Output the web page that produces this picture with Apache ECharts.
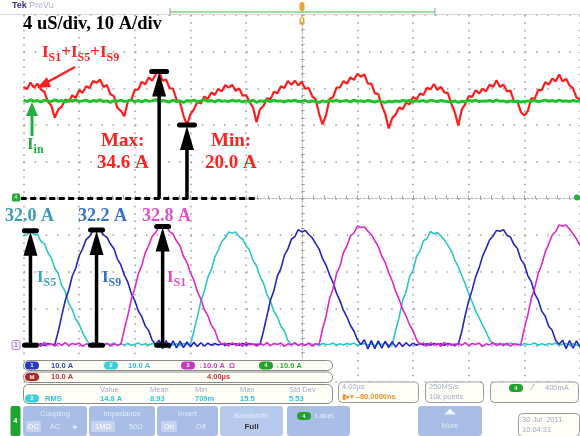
<!DOCTYPE html>
<html><head><meta charset="utf-8">
<script src="https://cdn.jsdelivr.net/npm/echarts@6/dist/echarts.min.js"></script>
<style>html,body{margin:0;padding:0;background:#fff}#c{width:580px;height:436px}</style>
</head><body><div id="c"></div><script>
// ---- acquisition grid (scope record) ----
const sampleStartUs = -20;
const sampleStepUs = 0.25;
const divisionsX = [-20, 20, 4];   // min, max, µs per div
// ---- Math: I_S1 + I_S5 + I_S9 (A) ----
const mathSum = [30.4,29.8,31.6,30.2,31.3,29.7,29.1,26.4,25.3,22.0,
 24.3,25.0,27.0,26.3,28.1,27.4,29.5,28.8,30.6,30.1,
 32.0,31.5,32.4,30.4,30.9,28.4,27.9,24.7,23.9,22.4,
 26.4,26.9,29.6,29.7,31.8,31.1,33.0,32.1,33.8,34.6,
 32.1,32.4,30.1,29.9,26.9,26.1,22.6,20.0,22.9,24.3,
 26.4,25.9,27.8,27.1,28.9,28.2,29.9,29.2,30.9,30.2,
 31.0,29.3,30.0,28.0,28.2,26.3,24.8,20.8,24.3,25.2,
 27.3,27.0,29.1,28.7,30.6,30.1,32.0,31.0,32.1,30.8,
 31.8,29.9,30.1,27.9,27.0,23.0,20.2,22.8,27.2,27.6,
 30.2,30.3,32.0,31.3,33.0,32.3,34.0,33.2,33.8,31.3,
 31.3,28.7,28.4,25.4,23.1,19.1,21.9,22.9,24.8,24.3,
 26.1,25.7,27.6,27.0,28.6,28.2,30.2,29.7,31.2,29.6,
 30.4,28.9,28.7,25.9,23.5,19.9,24.2,25.7,27.9,27.7,
 29.5,28.6,29.9,29.2,31.0,30.4,32.2,30.4,31.0,29.2,
 29.4,26.5,26.4,23.6,22.6,23.8,27.3,27.2,29.6,29.5,
 31.7,31.0,32.7,31.9,33.8,31.9,32.6,30.8,30.0,27.5,
 27.0];
// ---- Ch4: I_in (A) ----
const inputCurrent = [26.8,26.4,26.9,26.5,26.7,26.3,26.8,26.6,26.4,26.9,
 26.5,26.7,26.3,26.8,26.5,26.9,26.4,26.6,26.8,26.3,
 26.7,26.5,26.9,26.4,26.6,26.2,26.7,26.5,26.8,26.4,
 26.6,26.9,26.4,26.7,26.3,26.8,26.5,26.6,26.9,26.4,
 26.7,26.5,26.3,26.8,26.4,26.6,26.2,26.7,26.5,26.8,
 26.4,26.6,26.9,26.5,26.7,26.3,26.8,26.5,26.6,26.4,
 26.8,26.5,26.7,26.3,26.6,26.4,26.8,26.2,26.6,26.5,
 26.7,26.4,26.8,26.5,26.6,26.3,26.7,26.5,26.8,26.4,
 26.5,26.7,26.3,26.6,26.4,26.2,26.6,26.4,26.7,26.5,
 26.8,26.4,26.6,26.7,26.3,26.8,26.5,26.6,26.4,26.7,
 26.5,26.3,26.6,26.4,26.2,26.5,26.3,26.6,26.4,26.7,
 26.5,26.8,26.4,26.6,26.5,26.7,26.3,26.8,26.6,26.4,
 26.7,26.5,26.4,26.3,26.6,26.2,26.5,26.4,26.7,26.5,
 26.8,26.4,26.6,26.5,26.7,26.4,26.8,26.5,26.6,26.3,
 26.6,26.4,26.5,26.3,26.4,26.6,26.5,26.7,26.4,26.6,
 26.8,26.5,26.7,26.4,26.8,26.5,26.6,26.4,26.7,26.5,
 26.6];
// ---- Ch2: I_S5 (A), cyan ----
const iS5 = [29.9,30.1,31.2,30.2,30.3,28.3,27.7,25.3,23.8,21.0,19.5,16.3,14.6,11.4,9.8,7.1,5.8,3.4,1.7,0.2,
 0.6,0.1,0.5,0.0,0.4,0.2,0.6,-0.1,0.4,0.1,0.5,0.0,0.3,0.6,0.1,0.4,0.0,0.5,0.2,0.6,-0.1,0.3,0.5,0.1,0.4,0.0,0.5,0.2,
 0.3,3.9,7.8,12.0,14.8,18.5,20.6,24.0,25.9,28.3,29.3,30.9,30.5,30.9,29.6,28.9,27.1,25.9,23.1,21.6,18.8,16.9,13.9,12.0,9.2,7.7,5.2,3.9,1.3,0.2,
 0.5,0.1,0.4,0.0,0.6,0.2,0.4,-0.1,0.5,0.2,0.3,0.6,0.0,0.4,0.1,0.5,0.2,0.6,0.0,0.3,0.5,0.1,0.4,-0.1,0.5,0.2,0.6,0.1,
 0.2,4.1,7.6,12.2,14.6,18.7,20.4,24.2,25.7,28.5,29.1,31.0,30.4,30.7,29.8,28.7,27.3,25.7,23.3,21.4,19.0,16.7,14.1,11.8,9.4,7.5,5.4,3.7,1.5,0.3,
 0.5,0.1,0.4,0.0,0.6,0.2,0.4,-0.1,0.5,0.2,0.3,0.6,0.0,0.4,0.1,0.5,0.2,0.6,0.0,0.3,0.5,0.1,0.4,0.0,0.3];
// ---- Ch1: I_S9 (A), blue ----
const iS9 = [0.2,0.6,0.0,0.5,0.1,0.4,-0.1,0.5,0.2,
 0.2,3.8,8.1,12.2,15.0,18.8,21.0,24.4,26.3,28.8,29.7,31.4,31.0,31.4,30.1,29.4,27.6,26.3,23.5,21.9,19.1,17.2,14.1,12.2,9.4,7.8,5.3,4.0,1.4,0.3,
 1.4,-0.9,1.3,-0.8,1.2,-0.7,1.1,-0.6,0.9,-0.4,0.8,-0.3,0.7,-0.2,0.6,0.0,0.5,0.1,0.4,0.0,0.5,0.2,0.4,0.0,0.5,0.1,0.4,0.2,0.3,
 0.2,3.9,8.0,12.3,14.9,18.9,20.9,24.5,26.2,28.9,29.6,31.5,30.9,31.3,30.2,29.3,27.7,26.2,23.6,21.8,19.2,17.1,14.2,12.1,9.5,7.7,5.4,3.9,1.5,0.2,
 1.5,-1.0,1.3,-0.9,1.2,-0.8,1.1,-0.6,1.0,-0.5,0.8,-0.3,0.7,-0.2,0.6,0.0,0.5,0.1,0.4,0.0,0.5,0.2,0.4,0.0,0.5,0.1,0.3,
 0.3,3.7,8.2,12.1,15.1,18.7,21.1,24.3,26.4,28.7,29.8,31.3,31.1,31.5,30.0,29.5,27.5,26.4,23.4,22.0,19.0,17.3,14.0,12.3,9.3,7.9,5.2,4.1,1.3,0.3,
 1.4,-0.9,1.3,-0.8,1.2,-0.6];
// ---- Ch3: I_S1 (A), magenta ----
const iS1 = [0.6,-0.2,0.7,0.0,0.5,-0.3,0.8,0.1,0.4,-0.2,0.6,0.0,0.7,-0.1,0.5,0.2,0.6,-0.3,0.4,0.1,0.7,-0.1,0.5,0.0,0.6,-0.2,0.4,0.1,
 0.3,4.4,8.1,12.6,15.5,19.4,21.7,25.2,27.2,29.7,30.7,32.4,32.0,32.4,31.0,30.3,28.4,27.1,24.2,22.6,19.7,17.7,14.6,12.6,9.7,8.1,5.5,4.1,1.4,0.3,
 0.6,-0.2,0.7,0.0,0.5,-0.3,0.8,0.1,0.4,-0.2,0.6,0.0,0.7,-0.1,0.5,0.2,0.6,-0.3,0.4,0.1,0.7,-0.1,0.5,0.0,0.6,-0.2,0.4,
 0.2,4.5,8.0,12.7,15.4,19.5,21.6,25.3,27.1,29.8,30.6,32.5,32.1,32.3,31.1,30.2,28.5,27.0,24.3,22.5,19.8,17.6,14.7,12.5,9.8,8.0,5.6,4.0,1.5,0.2,
 0.6,-0.2,0.7,0.0,0.5,-0.3,0.8,0.1,0.4,-0.2,0.6,0.0,0.7,-0.1,0.5,0.2,0.6,-0.3,0.4,0.1,0.7,-0.1,0.5,0.0,0.6,-0.2,0.4,0.1,
 0.3,4.6,8.3,12.8,15.7,19.6,22.0,25.4,27.6,30.0,31.0,32.8,32.5,32.8,31.6,30.4,29.0,27.2];
// ---- annotated values ----
const mathMaxA = 34.6, mathMinA = 20.0;
const peakLabels = ['32.0 A', '32.2 A', '32.8 A'];
const peakWindowsUs = [[-20, -17], [-17, -12], [-12, -8]];

const pts = arr => arr.map((v, i) => [sampleStartUs + i * sampleStepUs, v]);
const chart = echarts.init(document.getElementById('c'), null, {renderer: 'canvas', width: 580, height: 436});
const tickStyle = {color: '#a0a0a0', width: 1};
chart.setOption({
  animation: false,
  backgroundColor: '#ffffff',
  grid: {left: 23.5, right: -0.5, top: 15, bottom: 54},
  xAxis: {type: 'value', min: divisionsX[0], max: divisionsX[1], interval: divisionsX[2],
    axisLabel: {show: false},
    axisLine: {show: true, onZero: true, onZeroAxisIndex: 0, lineStyle: {color: '#b4b4b4', width: 1, type: [2, 2]}},
    axisTick: {show: true, inside: true, length: 3, lineStyle: tickStyle},
    minorTick: {show: true, splitNumber: 5, length: 3, lineStyle: tickStyle},
    splitLine: {show: true, lineStyle: {color: '#9c9c9c', width: 1.5, type: [1.5, 5.84]}}},
  yAxis: [
    {type: 'value', min: -50, max: 50, interval: 10, axisLabel: {show: false},
     axisLine: {show: true, onZero: true, lineStyle: {color: '#b4b4b4', width: 1, type: [2, 2]}},
     axisTick: {show: true, inside: true, length: 3, lineStyle: tickStyle},
     minorTick: {show: true, splitNumber: 5, length: 3, lineStyle: tickStyle},
     splitLine: {show: true, lineStyle: {color: '#9c9c9c', width: 1.5, type: [1.5, 9.64]}}},
    {type: 'value', min: -10, max: 90, interval: 10, show: false, splitLine: {show: false}}
  ],
  series: [
    {name: 'IS5', type: 'line', yAxisIndex: 1, data: pts(iS5), showSymbol: false, silent: true, z: 2,
     lineStyle: {color: '#2cc6c6', width: 1.6}},
    {name: 'IS9', type: 'line', yAxisIndex: 1, data: pts(iS9), showSymbol: false, silent: true, z: 3,
     lineStyle: {color: '#2424c4', width: 1.6}},
    {name: 'IS1', type: 'line', yAxisIndex: 1, data: pts(iS1), showSymbol: false, silent: true, z: 4,
     lineStyle: {color: '#de28cc', width: 1.6}},
    {name: 'Math', type: 'line', yAxisIndex: 0, data: pts(mathSum), showSymbol: false, silent: true, z: 5,
     lineStyle: {color: '#ff1c1c', width: 2.2}},
    {name: 'Iin', type: 'line', yAxisIndex: 0, data: pts(inputCurrent), showSymbol: false, silent: true, z: 6,
     lineStyle: {color: '#22c02a', width: 3}}
  ]
});

// ---------- annotations ----------
const P = (t, v, ax) => chart.convertToPixel({xAxisIndex: 0, yAxisIndex: ax}, [t, v]);
const tOf = i => sampleStartUs + i * sampleStepUs;
function peakIn(arr, t0, t1) {
  let mx = -Infinity;
  arr.forEach((v, i) => { const t = tOf(i); if (t >= t0 && t <= t1 && v > mx) mx = v; });
  let s = 0, n = 0;
  arr.forEach((v, i) => { const t = tOf(i); if (t >= t0 && t <= t1 && v >= mx * 0.985) { s += t; n++; } });
  return [s / n, mx];
}
const mctx = document.createElement('canvas').getContext('2d');
const SERIF = '"Liberation Serif","Times New Roman",serif';
const SANS = '"Liberation Sans","DejaVu Sans",sans-serif';
function measure(text, fs, fam) { mctx.font = 'bold ' + fs + 'px ' + fam; return mctx.measureText(text).width; }
const G = [];
function txt(x, y, text, o) {
  o = o || {};
  G.push({type: 'text', x: x, y: y, z: o.z || 120, silent: true, style: {text: text, fill: o.fill || '#000',
    fontSize: o.fs || 8, fontWeight: o.fw || 'normal', fontFamily: o.fam || SANS,
    align: o.align || 'left', verticalAlign: 'middle'}});
}
function serifParts(x, capTop, parts, color, big, small) {
  const base = capTop + 0.66 * big;
  let cx = x;
  parts.forEach(([s, sub]) => {
    const fs = sub ? small : big;
    const y = sub ? base + 0.24 * big - 0.33 * small : base - 0.33 * big;
    txt(cx, y, s, {fill: color, fs: fs, fw: 'bold', fam: SERIF});
    cx += measure(s, fs, SERIF);
  });
}
function rect(x, y, w, h, fill, stroke, r, z, lw) {
  G.push({type: 'rect', z: z || 110, silent: true, shape: {x: x, y: y, width: w, height: h, r: r || 0},
    style: {fill: fill || 'none', stroke: stroke || 'none', lineWidth: lw || 1}});
}
function line(x1, y1, x2, y2, color, w, dash) {
  G.push({type: 'line', z: 110, silent: true, shape: {x1: x1, y1: y1, x2: x2, y2: y2},
    style: {stroke: color, lineWidth: w, lineDash: dash || null}});
}
function arrowUp(x, yTop, yBot, topW, botBar) {
  line(x, yBot, x, yTop + 18, '#000', 3.5);
  G.push({type: 'polygon', z: 111, silent: true, shape: {points: [[x, yTop + 1], [x - 7, yTop + 25], [x + 7, yTop + 25]]}, style: {fill: '#000'}});
  rect(x - topW / 2, yTop - 2.5, topW, 5, '#000', null, 2.5, 112);
  if (botBar) rect(x - botBar / 2, yBot - 2.5, botBar, 5, '#000', null, 2.5, 112);
}

// black dashed reference line at the Math/Ch4 ground
const g0a = P(-20.2, 0, 0), g0b = P(-3.2, 0, 0);
line(g0a[0], g0a[1], g0b[0], g0b[1], '#000', 3, [6, 3.5]);
// max / min arrows (at the samples that carry the annotated values)
const iMax = mathSum.indexOf(mathMaxA), iMin = mathSum.indexOf(mathMinA);
const pMaxTop = P(tOf(iMax), mathMaxA, 0), pMaxBot = P(tOf(iMax), 0, 0);
arrowUp(pMaxTop[0], pMaxTop[1], pMaxBot[1], 20, 0);
const pMinTop = P(tOf(iMin), mathMinA, 0), pMinBot = P(tOf(iMin), 0, 0);
arrowUp(pMinTop[0], pMinTop[1], pMinBot[1], 20, 0);
// phase peak arrows
[iS5, iS9, iS1].forEach((arr, k) => {
  const [tp, mx] = peakIn(arr, peakWindowsUs[k][0], peakWindowsUs[k][1]);
  const top = P(tp, mx, 1), bot = P(tp, 0, 1);
  arrowUp(top[0], top[1], bot[1], 17, 17);
});

// texts
txt(23, 24, '4 uS/div, 10 A/div', {fs: 18.5, fw: 'bold', fam: SERIF});
serifParts(42, 47, [['I', 0], ['S1', 1], ['+I', 0], ['S5', 1], ['+I', 0], ['S9', 1]], '#ff2020', 17, 12);
serifParts(101, 135, [['Max:', 0]], '#ff2020', 19, 12);
serifParts(97, 157, [['34.6 A', 0]], '#ff2020', 19, 12);
serifParts(211, 135, [['Min:', 0]], '#ff2020', 19, 12);
serifParts(205, 157, [['20.0 A', 0]], '#ff2020', 19, 12);
serifParts(27, 139, [['I', 0], ['in', 1]], '#20b040', 17, 12);
serifParts(5, 210, [[peakLabels[0], 0]], '#3a9db4', 18, 12);
serifParts(78, 210, [[peakLabels[1], 0]], '#3472c6', 18, 12);
serifParts(142, 210, [[peakLabels[2], 0]], '#e44ccc', 18, 12);
serifParts(37, 272, [['I', 0], ['S5', 1]], '#3aa8bc', 17, 12);
serifParts(102, 272, [['I', 0], ['S9', 1]], '#3472c6', 17, 12);
serifParts(167, 272, [['I', 0], ['S1', 1]], '#e44ccc', 17, 12);
// red pointer arrow
line(75, 67, 44, 84, '#ff2020', 2.5);
G.push({type: 'polygon', z: 111, silent: true, shape: {points: [[37, 88], [47, 77], [51, 87]]}, style: {fill: '#ff2020'}});
// green pointer arrow
line(32, 136, 32, 112, '#22b040', 3);
G.push({type: 'polygon', z: 111, silent: true, shape: {points: [[32, 102], [26, 116], [38, 116]]}, style: {fill: '#22b040'}});

// scope chrome: top
txt(12, 6, 'Tek', {fs: 9, fw: 'bold', fill: '#3b2d8a'});
txt(29, 6, 'PreVu', {fs: 9, fill: '#a6b0e6'});
line(0, 14.5, 580, 14.5, '#d6d6d6', 1);
line(170, 12, 435, 12, '#7fd07f', 1.5);
line(170, 8, 170, 16, '#999', 1);
line(435, 8, 435, 16, '#999', 1);
rect(299.5, 2, 5, 9, '#f2a234', null, 2.5, 115);
rect(299.5, 17, 5, 8, '#f2a234', null, 2.5, 115);
rect(301, 18, 2, 4, '#fff', null, 1, 116);
G.push({type: 'circle', z: 115, silent: true, shape: {cx: 577, cy: 197.5, r: 3}, style: {fill: '#22b030'}});
// ground markers
rect(12, 193.5, 8, 8, '#22aa33', null, 1.5, 115);
txt(16, 197.5, '4', {fs: 6, fill: '#fff', align: 'center', z: 116});
rect(12, 340.5, 8, 9, '#f6eefa', '#c07ad4', 1.5, 115);
txt(16, 345, '1', {fs: 7, fill: '#3a5ac8', align: 'center', z: 116});

// status area
function pill(cx, cy, label, color) {
  rect(cx - 7, cy - 4, 14, 8, color, null, 4, 121);
  txt(cx, cy, label, {fs: 6, fw: 'bold', fill: '#fff', align: 'center', z: 122});
}
rect(23.5, 360.5, 309, 10, '#fefef6', '#8a8a8a', 5, 120);
rect(23.5, 372, 309, 10.5, '#fefef6', '#8a8a8a', 5, 120);
rect(23.5, 384.5, 309, 19, '#fefef6', '#8a8a8a', 5, 120);
pill(32, 365.5, '1', '#2438c0'); txt(51, 365.5, '10.0 A', {fill: '#3446c4', fs: 7.5, fw: 'bold', z: 122});
pill(111, 365.5, '2', '#3cd0da'); txt(128, 365.5, '10.0 A', {fill: '#34c4d4', fs: 7.5, fw: 'bold', z: 122});
pill(188, 365.5, '3', '#c438c4'); txt(199, 365.5, '\u219310.0 A  \u03A9', {fill: '#c43cc4', fs: 7.5, fw: 'bold', z: 122});
pill(266, 365.5, '4', '#1ea42a'); txt(276, 365.5, '\u219310.0 A', {fill: '#28b034', fs: 7.5, fw: 'bold', z: 122});
pill(32, 377, 'M', '#b42828'); txt(51, 377, '10.0 A', {fill: '#c43434', fs: 7.5, fw: 'bold', z: 122});
txt(207, 377, '4.00\u00b5s', {fill: '#c43434', fs: 7.5, fw: 'bold', z: 122});
const hdr = {fill: '#a0acc8', fs: 7.5, z: 122};
txt(100, 389.5, 'Value', hdr); txt(150, 389.5, 'Mean', hdr); txt(195, 389.5, 'Min', hdr);
txt(240, 389.5, 'Max', hdr); txt(289, 389.5, 'Std Dev', hdr);
pill(32, 398.5, '2', '#3cd0da');
const vs = {fill: '#30c4d6', fs: 7.5, fw: 'bold', z: 122};
txt(45, 398.5, 'RMS', vs); txt(100, 398.5, '14.8 A', vs); txt(150, 398.5, '8.93', vs);
txt(195, 398.5, '709m', vs); txt(240, 398.5, '15.5', vs); txt(289, 398.5, '5.53', vs);
rect(338.5, 382, 80, 20.5, '#fefef6', '#9a9a9a', 4, 120);
txt(342, 387, '4.00\u00b5s', {fill: '#a0acc8', fs: 7.5, z: 122});
txt(342, 397, '\u25ae\u25b8\u25be \u201380.0000ns', {fill: '#f0902a', fs: 7.5, fw: 'bold', z: 122});
rect(425.5, 382, 58, 20.5, '#fefef6', '#9a9a9a', 4, 120);
txt(429, 387, '250MS/s', {fill: '#a0acc8', fs: 7.5, z: 122});
txt(429, 397, '10k points', {fill: '#a0acc8', fs: 7.5, z: 122});
rect(490.5, 382, 88, 20.5, '#fefef6', '#9a9a9a', 4, 120);
pill(516, 388, '4', '#1ea42a');
txt(532, 388, '\u2215', {fill: '#8090b8', fs: 9, z: 122});
txt(545, 388, '400mA', {fill: '#a0acc8', fs: 7.5, z: 122});

// menu buttons
const BTN = '#a9bee6', HI = '#c6d3ef', LT = '#e4ebf9';
rect(10.5, 406, 10, 30, '#20a430', null, 2, 120);
txt(15.5, 421, '4', {fill: '#fff', fs: 7, fw: 'bold', align: 'center', z: 122});
rect(23, 406, 64, 30, BTN, null, 3, 120);
txt(55, 413.5, 'Coupling', {fill: LT, fs: 7.5, align: 'center', z: 122});
rect(26, 421, 15, 11, HI, null, 2, 121);
txt(33.5, 426.5, 'DC', {fill: '#fff', fs: 7.5, align: 'center', z: 122});
txt(55, 426.5, 'AC', {fill: LT, fs: 7.5, align: 'center', z: 122});
txt(75, 426.5, '\u23DA', {fill: LT, fs: 8, align: 'center', z: 122});
rect(89, 406, 66, 30, BTN, null, 3, 120);
txt(122, 413.5, 'Impedance', {fill: LT, fs: 7.5, align: 'center', z: 122});
rect(91, 421, 24, 11, HI, null, 2, 121);
txt(103, 426.5, '1M\u03A9', {fill: '#fff', fs: 7.5, align: 'center', z: 122});
txt(136, 426.5, '50\u03A9', {fill: LT, fs: 7.5, align: 'center', z: 122});
rect(157, 406, 61, 30, BTN, null, 3, 120);
txt(187.5, 413.5, 'Invert', {fill: LT, fs: 7.5, align: 'center', z: 122});
rect(161, 421, 16, 11, HI, null, 2, 121);
txt(169, 426.5, 'On', {fill: '#fff', fs: 7.5, align: 'center', z: 122});
txt(201, 426.5, 'Off', {fill: LT, fs: 7.5, align: 'center', z: 122});
rect(220, 406, 63, 30, '#b8caec', null, 3, 120);
txt(251.5, 416, 'Bandwidth', {fill: LT, fs: 7.5, align: 'center', z: 122});
txt(251.5, 426.5, 'Full', {fill: '#333', fs: 8, fw: 'bold', align: 'center', z: 122});
rect(287, 406, 63, 30, BTN, null, 3, 120);
pill(304, 416, '4', '#1ea42a');
txt(315, 416, 'Label', {fill: LT, fs: 7.5, z: 122});
rect(418, 406, 64, 30, BTN, null, 3, 120);
G.push({type: 'polygon', z: 122, silent: true, shape: {points: [[450, 408.5], [444, 414.5], [456, 414.5]]}, style: {fill: '#eef3fc'}});
txt(450, 425.5, 'More', {fill: LT, fs: 7.5, align: 'center', z: 122});
rect(518.5, 413.5, 61, 23, '#fefef6', '#9a9a9a', 4, 120);
txt(522, 420, '30 Jul  2011', {fill: '#a0acc8', fs: 7.5, z: 122});
txt(522, 430, '10:04:31', {fill: '#a0acc8', fs: 7.5, z: 122});

chart.setOption({graphic: {elements: G}});
</script></body></html>
